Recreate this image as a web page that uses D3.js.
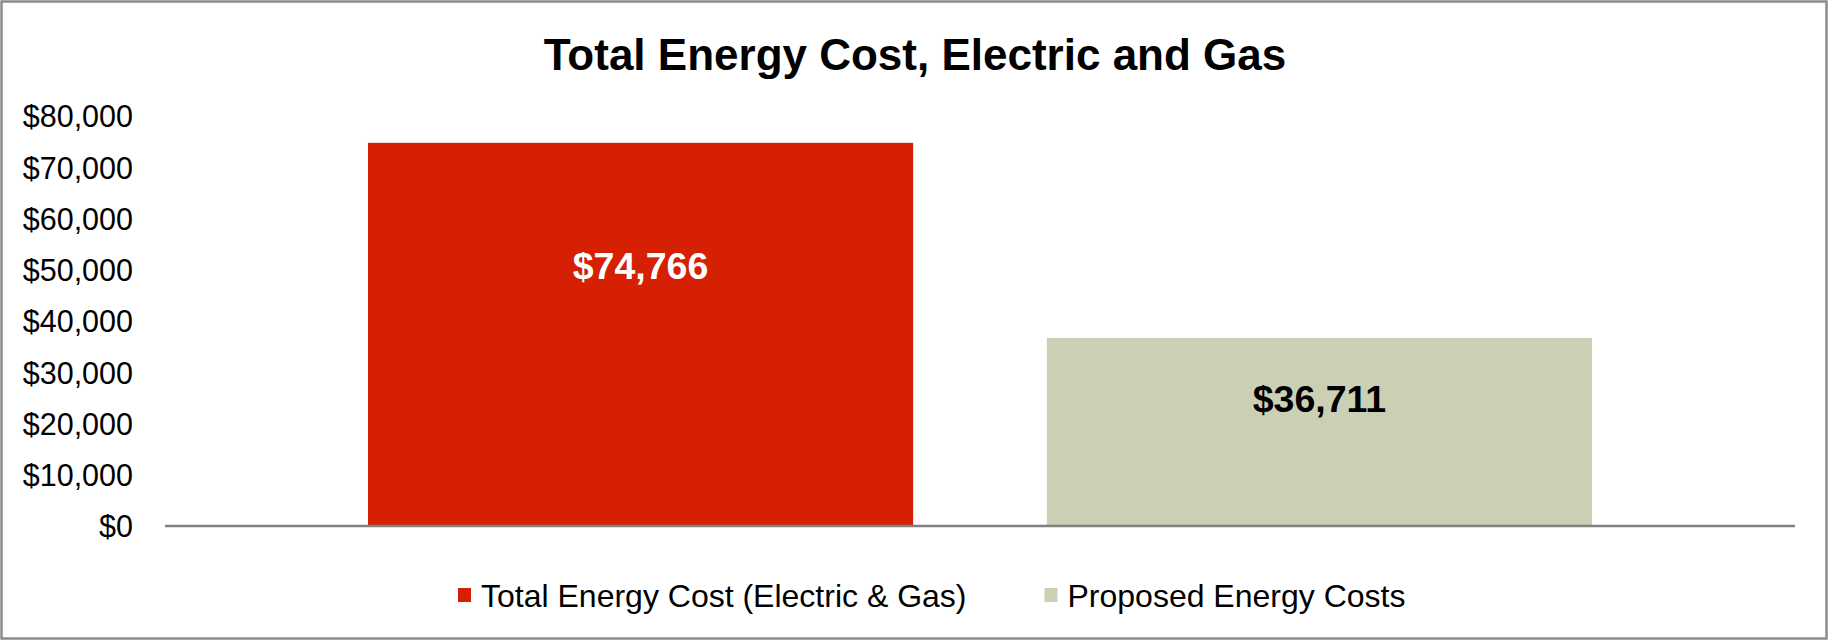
<!DOCTYPE html>
<html lang="en">
<head>
    <meta charset="utf-8">
    <title>Total Energy Cost</title>
    <script type="text/javascript" src="https://cdn.jsdelivr.net/npm/d3@7/dist/d3.min.js"></script>
    <style>
        body { margin: 0; background: #fff; }
        text { font-family: "Liberation Sans", Arial, sans-serif; }
    </style>
</head>
<body>
<script type="text/javascript">
    // chart data
    var seriesNames = ["Total Energy Cost (Electric & Gas)", "Proposed Energy Costs"];
    var seriesValues = [74766, 36711];
    var seriesColors = ["#d62004", "#cbcfb4"];
    var labelColors = ["#ffffff", "#000000"];
    var yTicks = [0, 10000, 20000, 30000, 40000, 50000, 60000, 70000, 80000];

    var w = 1828;
    var h = 640;
    // plot area (note: "top" is a reserved window prop, so use plot* names)
    var plotLeft = 165, plotRight = 1795, plotTop = 116, plotBottom = 526;

    var svg = d3.select("body")
            .append("svg")
            .attr("width", w)
            .attr("height", h);

    // outer frame
    svg.append("rect")
            .attr("x", 1.5).attr("y", 1.5)
            .attr("width", w - 3).attr("height", h - 3)
            .attr("fill", "#fff")
            .attr("stroke", "#8c8c8c")
            .attr("stroke-width", 2.5);

    var x = d3.scaleBand()
            .domain(seriesNames)
            .range([plotLeft, plotRight])
            .paddingInner(0.197)
            .paddingOuter(0.299);

    var y = d3.scaleLinear()
            .domain([0, 80000])
            .range([plotBottom, plotTop]);

    // bars
    svg.selectAll("rect.bar")
            .data(seriesValues)
            .enter()
            .append("rect")
            .attr("class", "bar")
            .attr("x", function (d, i) { return x(seriesNames[i]); })
            .attr("y", function (d) { return y(d); })
            .attr("width", x.bandwidth())
            .attr("height", function (d) { return plotBottom - y(d); })
            .attr("fill", function (d, i) { return seriesColors[i]; });

    // y axis labels
    var yAxis = d3.axisLeft(y)
            .tickValues(yTicks)
            .tickFormat(d3.format("$,"))
            .tickSize(0)
            .tickPadding(32);
    var ya = svg.append("g")
            .attr("transform", "translate(" + plotLeft + ",0)")
            .call(yAxis);
    ya.select(".domain").remove();
    ya.selectAll("text")
            .attr("font-family", "Liberation Sans, Arial, sans-serif")
            .attr("font-size", "30.5px")
            .attr("fill", "#000")
            .attr("dy", "0.36em");

    // baseline
    svg.append("line")
            .attr("x1", plotLeft).attr("x2", plotRight)
            .attr("y1", y(0)).attr("y2", y(0))
            .attr("stroke", "#808080")
            .attr("stroke-width", 2.5);

    // value labels
    var labelFrac = 0.68;
    svg.selectAll("text.val")
            .data(seriesValues)
            .enter()
            .append("text")
            .attr("class", "val")
            .attr("x", function (d, i) { return x(seriesNames[i]) + x.bandwidth() / 2; })
            .attr("y", function (d) { return y(d * labelFrac); })
            .attr("dy", "0.36em")
            .attr("text-anchor", "middle")
            .attr("font-size", "37.5px")
            .attr("font-weight", "bold")
            .attr("fill", function (d, i) { return labelColors[i]; })
            .text(function (d) { return d3.format("$,")(d); });

    // title
    svg.append("text")
            .attr("x", 915)
            .attr("y", 70)
            .attr("text-anchor", "middle")
            .attr("font-size", "44px")
            .attr("font-weight", "bold")
            .attr("fill", "#000")
            .text("Total Energy Cost, Electric and Gas");

    // legend
    var legend = svg.append("g").attr("transform", "translate(0,595)");
    var lx = 458;
    seriesNames.forEach(function (name, i) {
        var g = legend.append("g").attr("transform", "translate(" + lx + ",0)");
        g.append("rect")
                .attr("x", 0).attr("y", -7)
                .attr("width", 13).attr("height", 14)
                .attr("fill", seriesColors[i]);
        var t = g.append("text")
                .attr("x", 23)
                .attr("dy", "0.36em")
                .attr("font-size", "32px")
                .attr("fill", "#000")
                .text(name);
        lx += 23 + t.node().getComputedTextLength() + 78;
    });
</script>
</body>
</html>
